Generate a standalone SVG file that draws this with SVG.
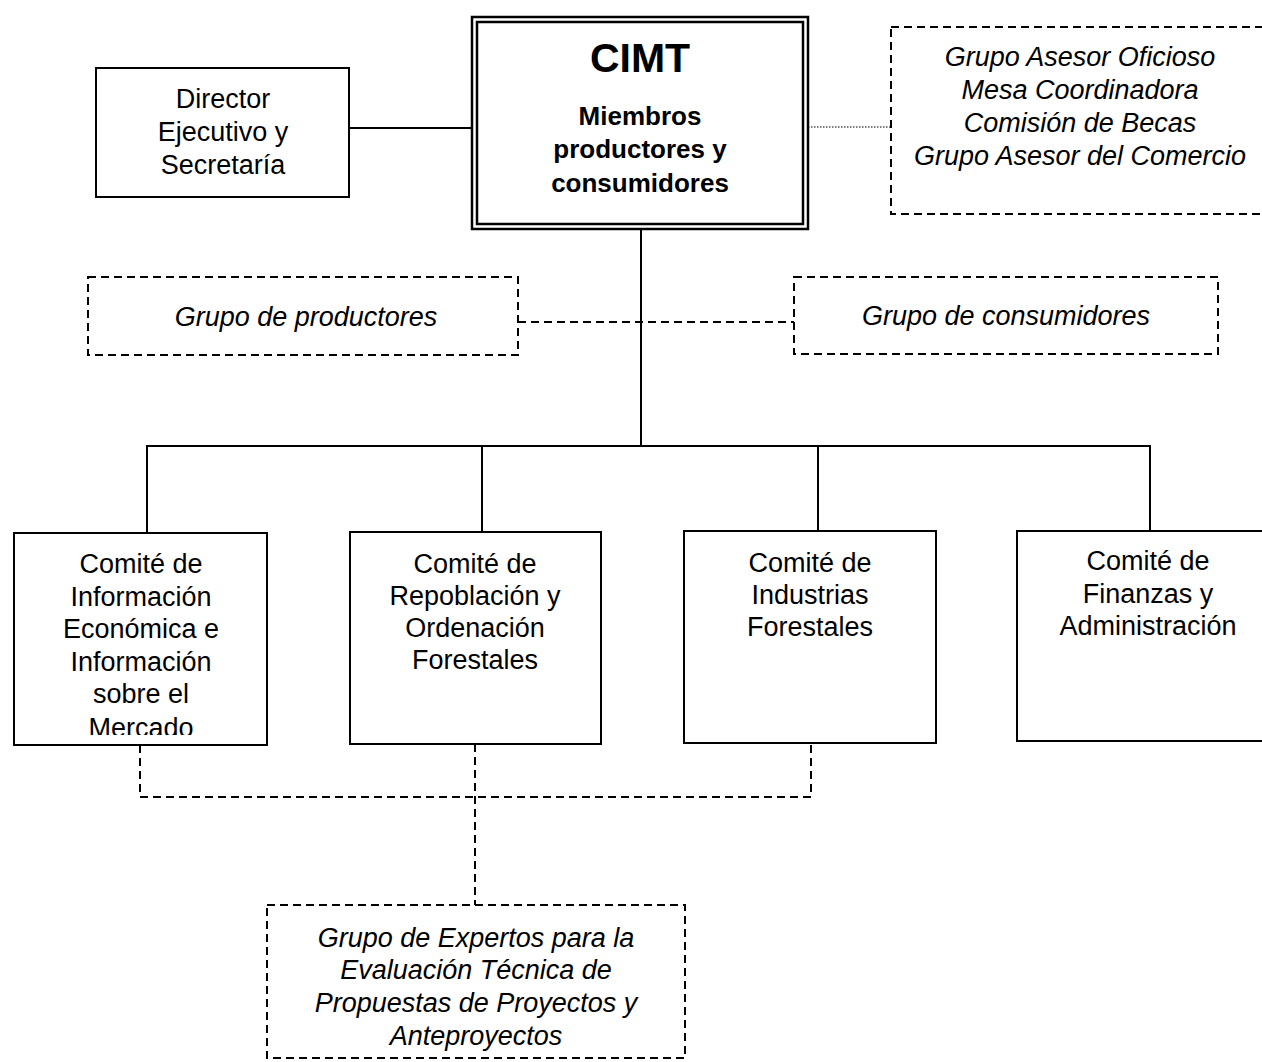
<svg xmlns="http://www.w3.org/2000/svg" width="1262" height="1062" viewBox="0 0 1262 1062">
<style>
.box{fill:#fff;stroke:#000;stroke-width:2}
.dbox{fill:none;stroke:#000;stroke-width:2;stroke-dasharray:8 5}
.line{fill:none;stroke:#000;stroke-width:2}
.dline{fill:none;stroke:#000;stroke-width:2;stroke-dasharray:8 5}
.dot{fill:none;stroke:#000;stroke-width:1.2;stroke-dasharray:1.5 1.5}
text{font-family:"Liberation Sans",Arial,sans-serif;fill:#000;text-anchor:middle}
.t{font-size:27px}
.i{font-size:27px;font-style:italic}
.b{font-size:26px;font-weight:bold}
</style>
<defs>
<clipPath id="c1"><rect x="14" y="533" width="253" height="202"/></clipPath>
</defs>
<rect width="1262" height="1062" fill="#fff"/>
<g id="connectors">
<line class="line" x1="349" y1="128" x2="473" y2="128"/>
<line class="dot" x1="808" y1="127" x2="891" y2="127"/>
<line class="dline" x1="518" y1="322" x2="794" y2="322"/>
<line class="line" x1="641" y1="229" x2="641" y2="446"/>
<polyline class="line" points="147,533 147,446 1150,446 1150,531"/>
<line class="line" x1="482" y1="446" x2="482" y2="532"/>
<line class="line" x1="818" y1="446" x2="818" y2="531"/>
<polyline class="dline" points="140,745 140,797 811,797 811,743"/>
<line class="dline" x1="475" y1="744" x2="475" y2="905"/>
</g>
<g id="cimt">
<rect x="472" y="17" width="336" height="212" fill="#fff" stroke="#000" stroke-width="2.5"/>
<rect x="477" y="22" width="326" height="202" fill="none" stroke="#000" stroke-width="2.5"/>
<text x="640" y="72" style="font-size:41px;font-weight:bold">CIMT</text>
<text class="b" x="640" y="125">Miembros</text>
<text class="b" x="640" y="158">productores y</text>
<text class="b" x="640" y="192">consumidores</text>
</g>
<g id="director">
<rect class="box" x="96" y="68" width="253" height="129"/>
<text class="t" x="223" y="108">Director</text>
<text class="t" x="223" y="141">Ejecutivo y</text>
<text class="t" x="223" y="174">Secretaría</text>
</g>
<g id="asesor">
<rect class="dbox" x="891" y="27" width="390" height="187"/>
<text class="i" x="1080" y="66">Grupo Asesor Oficioso</text>
<text class="i" x="1080" y="99">Mesa Coordinadora</text>
<text class="i" x="1080" y="132">Comisión de Becas</text>
<text class="i" x="1080" y="165">Grupo Asesor del Comercio</text>
</g>
<g id="productores">
<rect class="dbox" x="88" y="277" width="430" height="78"/>
<text class="i" x="306" y="326">Grupo de productores</text>
</g>
<g id="consumidores">
<rect class="dbox" x="794" y="277" width="424" height="77"/>
<text class="i" x="1006" y="325">Grupo de consumidores</text>
</g>
<g id="comite1">
<rect class="box" x="14" y="533" width="253" height="212"/>
<g clip-path="url(#c1)">
<text class="t" x="141" y="573">Comité de</text>
<text class="t" x="141" y="606">Información</text>
<text class="t" x="141" y="638">Económica e</text>
<text class="t" x="141" y="671">Información</text>
<text class="t" x="141" y="703">sobre el</text>
<text class="t" x="141" y="737">Mercado</text>
</g>
</g>
<g id="comite2">
<rect class="box" x="350" y="532" width="251" height="212"/>
<text class="t" x="475" y="573">Comité de</text>
<text class="t" x="475" y="605">Repoblación y</text>
<text class="t" x="475" y="637">Ordenación</text>
<text class="t" x="475" y="669">Forestales</text>
</g>
<g id="comite3">
<rect class="box" x="684" y="531" width="252" height="212"/>
<text class="t" x="810" y="572">Comité de</text>
<text class="t" x="810" y="604">Industrias</text>
<text class="t" x="810" y="636">Forestales</text>
</g>
<g id="comite4">
<rect class="box" x="1017" y="531" width="262" height="210"/>
<text class="t" x="1148" y="570">Comité de</text>
<text class="t" x="1148" y="603">Finanzas y</text>
<text class="t" x="1148" y="635">Administración</text>
</g>
<g id="expertos">
<rect class="dbox" x="267" y="905" width="418" height="153"/>
<text class="i" x="476" y="947">Grupo de Expertos para la</text>
<text class="i" x="476" y="979">Evaluación Técnica de</text>
<text class="i" x="476" y="1012">Propuestas de Proyectos y</text>
<text class="i" x="476" y="1045">Anteproyectos</text>
</g>
</svg>
